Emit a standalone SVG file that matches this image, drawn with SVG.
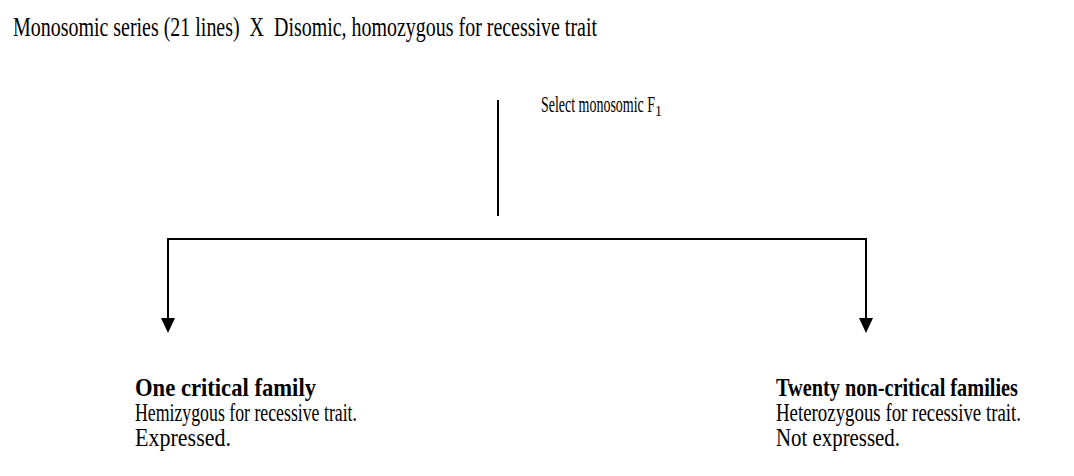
<svg xmlns="http://www.w3.org/2000/svg" width="1074" height="476" viewBox="0 0 1074 476">
<style>
text{font-family:"Liberation Serif","Times New Roman",serif;font-size:26px;fill:#000;white-space:pre}
.t{font-size:28px}
.s{font-size:23px}
.b{font-weight:bold}
.sub{font-size:15px}
.ln{stroke:#000;stroke-width:2;fill:none}
</style>
<rect width="1074" height="476" fill="#fff"/>
<g id="title"><text class="t" x="13" y="36" textLength="584" lengthAdjust="spacingAndGlyphs" xml:space="preserve">Monosomic series (21 lines)  X  Disomic, homozygous for recessive trait</text></g>
<g id="select-label">
<text class="s" x="541" y="112" textLength="114" lengthAdjust="spacingAndGlyphs">Select monosomic F</text>
<text class="sub" x="655" y="116" textLength="7" lengthAdjust="spacingAndGlyphs">1</text>
</g>
<g id="connectors">
<line class="ln" x1="498" y1="100" x2="498" y2="216"/>
<polyline class="ln" points="168,318 168,239 866,239 866,318"/>
<path d="M161,318 L175,318 L168,333 Z" fill="#000"/>
<path d="M859,318 L873,318 L866,333 Z" fill="#000"/>
</g>
<g id="critical">
<text class="b" x="135" y="396" textLength="181" lengthAdjust="spacingAndGlyphs">One critical family</text>
<text x="135" y="421" textLength="222" lengthAdjust="spacingAndGlyphs">Hemizygous for recessive trait.</text>
<text x="135" y="446" textLength="96" lengthAdjust="spacingAndGlyphs">Expressed.</text>
</g>
<g id="noncritical">
<text class="b" x="776" y="396" textLength="242" lengthAdjust="spacingAndGlyphs">Twenty non-critical families</text>
<text x="776" y="421" textLength="245" lengthAdjust="spacingAndGlyphs">Heterozygous for recessive trait.</text>
<text x="776" y="446" textLength="124" lengthAdjust="spacingAndGlyphs">Not expressed.</text>
</g>
</svg>
